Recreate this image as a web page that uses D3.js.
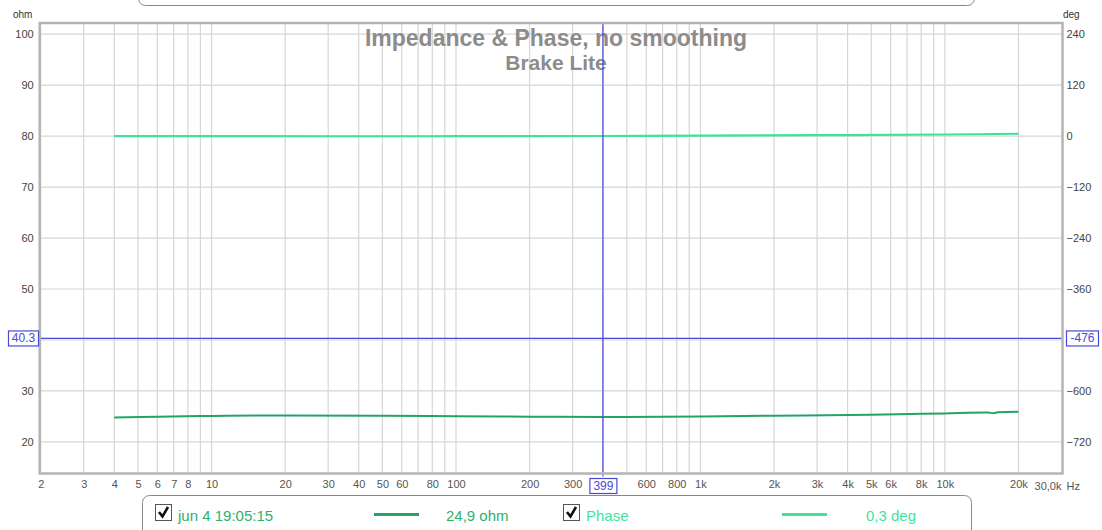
<!DOCTYPE html>
<html><head><meta charset="utf-8">
<script src="https://cdn.jsdelivr.net/npm/d3@7/dist/d3.min.js"></script>
<style>body{margin:0;background:#fff;}svg{display:block;font-family:"Liberation Sans",Arial,sans-serif;}</style>
</head><body><svg id="c" width="1102" height="530"></svg>
<script>
// ---- data ----
const impFreq = [4, 6, 10, 20, 50, 100, 200, 399, 1000, 2000, 5000, 10000, 15000, 15800, 16500, 20000];
const impOhm  = [24.8, 24.95, 25.1, 25.2, 25.15, 25.05, 24.95, 24.9, 25.0, 25.15, 25.35, 25.6, 25.75, 25.65, 25.8, 25.9];
const phFreq  = [4, 10, 30, 100, 399, 1000, 3000, 10000, 20000];
const phDeg   = [0, 0, -0.3, -0.2, 0.3, 1.2, 2.2, 3.8, 5.6];
const xTickVals   = [2,3,4,5,6,7,8,10,20,30,40,50,60,80,100,200,300,600,800,1000,2000,3000,4000,5000,6000,8000,10000,20000];
const xTickLabels = ["2","3","4","5","6","7","8","10","20","30","40","50","60","80","100","200","300","600","800","1k","2k","3k","4k","5k","6k","8k","10k","20k"];
const xGridVals = [2,3,4,5,6,7,8,9,10,20,30,40,50,60,70,80,90,100,200,300,400,500,600,700,800,900,1000,2000,3000,4000,5000,6000,7000,8000,9000,10000,20000];
const ohmGrid  = [20,30,40,50,60,70,80,90,100];
const ohmTicks = [20,30,50,60,70,80,90,100];          // 40 hidden by cursor box
const degTicks = [240,120,0,-120,-240,-360,-600,-720]; // -480 hidden by cursor box
const cursorFreq = 399, cursorOhm = 40.3, cursorDeg = -476;
const titleLines = ["Impedance & Phase, no smoothing", "Brake Lite"];
const legendItems = [
  {name:"jun 4 19:05:15", value:"24,9 ohm"},
  {name:"Phase", value:"0,3 deg"}
];

// ---- layout ----
const L = 40.7, R = 1061.5, T = 24, B = 472.5;
const svg = d3.select("#c");
const x = d3.scaleLog().domain([2, 30000]).range([L, R]);
const y = d3.scaleLinear().domain([14, 102]).range([B, T]);
const yD = d3.scaleLinear().domain([14*12-960, 102*12-960]).range([B, T]); // deg = (ohm-80)*12
const impColor = "#25a366", phColor = "#3de39a", cursorColor = "#4a4ad8";

// top clipped box
svg.append("rect").attr("x",138.5).attr("y",-12).attr("width",836).attr("height",17.5).attr("rx",7)
  .attr("fill","#fff").attr("stroke","#888");

// grid
const g = svg.append("g");
g.selectAll("line.vx").data(xGridVals).join("line")
  .attr("x1",d=>x(d)).attr("x2",d=>x(d)).attr("y1",T).attr("y2",B)
  .attr("stroke","#d6d6d6").attr("stroke-width",1.2);
g.selectAll("line.hy").data(ohmGrid).join("line")
  .attr("x1",L).attr("x2",R).attr("y1",d=>y(d)).attr("y2",d=>y(d))
  .attr("stroke","#d6d6d6").attr("stroke-width",1.2);

// title
svg.selectAll("text.title").data(titleLines).join("text")
  .attr("x",556).attr("y",(d,i)=>46+i*24).attr("text-anchor","middle")
  .attr("font-size",(d,i)=>i===0?23:21).attr("font-weight","bold").attr("fill","#8c8c8c").text(d=>d);

// lines
const lineImp = d3.line().x(d=>x(d[0])).y(d=>y(d[1])).curve(d3.curveMonotoneX);
const lineDeg = d3.line().x(d=>x(d[0])).y(d=>yD(d[1])).curve(d3.curveMonotoneX);
svg.append("path").datum(phFreq.map((f,i)=>[f,phDeg[i]])).attr("d",lineDeg)
  .attr("fill","none").attr("stroke",phColor).attr("stroke-width",2.2);
svg.append("path").datum(impFreq.map((f,i)=>[f,impOhm[i]])).attr("d",lineImp)
  .attr("fill","none").attr("stroke",impColor).attr("stroke-width",2);

// cursor lines
svg.append("line").attr("x1",x(cursorFreq)).attr("x2",x(cursorFreq)).attr("y1",T).attr("y2",B+4)
  .attr("stroke",cursorColor).attr("stroke-width",1.2);
svg.append("line").attr("x1",L).attr("x2",R).attr("y1",y(cursorOhm)).attr("y2",y(cursorOhm))
  .attr("stroke",cursorColor).attr("stroke-width",1.2);

// frame
svg.append("rect").attr("x",L-1).attr("y",T-1).attr("width",R-L+2).attr("height",B-T+2)
  .attr("fill","none").attr("stroke","#b4b4b4").attr("stroke-width",2.5);

// axes
const xAxis = d3.axisBottom(x).tickValues(xTickVals).tickFormat((d,i)=>xTickLabels[i]).tickSize(0).tickPadding(8);
const ax = svg.append("g").attr("transform",`translate(0,${B})`).call(xAxis);
ax.select(".domain").remove();
ax.selectAll("text").attr("font-size",11).attr("fill","#555").attr("font-family","Liberation Sans, Arial, sans-serif");
svg.append("text").attr("x",R).attr("y",B+17).attr("text-anchor","end").attr("font-size",11).attr("fill","#555").text("30,0k");
svg.append("text").attr("x",R+5).attr("y",B+17).attr("font-size",11).attr("fill","#555").text("Hz");

const yAxis = d3.axisLeft(y).tickValues(ohmTicks).tickSize(0).tickPadding(7);
const ay = svg.append("g").attr("transform",`translate(${L},0)`).call(yAxis);
ay.select(".domain").remove();
ay.selectAll("text").attr("font-size",11).attr("fill","#444").attr("font-family","Liberation Sans, Arial, sans-serif");
svg.append("text").attr("x",13).attr("y",18).attr("font-size",10).attr("fill","#333").text("ohm");

const yAxisR = d3.axisRight(yD).tickValues(degTicks).tickSize(0).tickPadding(5);
const ayr = svg.append("g").attr("transform",`translate(${R},0)`).call(yAxisR);
ayr.select(".domain").remove();
ayr.selectAll("text").attr("font-size",11).attr("fill","#444").attr("font-family","Liberation Sans, Arial, sans-serif");
svg.append("text").attr("x",1063).attr("y",18).attr("font-size",10).attr("fill","#333").text("deg");

// cursor labels
function box(cx, cy, w, h, txt){
  svg.append("rect").attr("x",cx).attr("y",cy).attr("width",w).attr("height",h)
    .attr("fill","#fff").attr("stroke",cursorColor).attr("stroke-width",1.2);
  svg.append("text").attr("x",cx+w/2).attr("y",cy+h-3.5).attr("text-anchor","middle")
    .attr("font-size",12).attr("fill",cursorColor).text(txt);
}
box(8.5, y(cursorOhm)-7.5, 30, 15, String(cursorOhm));
box(1066.5, y(cursorOhm)-7.5, 32, 15, String(cursorDeg));
box(x(cursorFreq)-13, B+6, 27, 15, String(cursorFreq));

// legend box
svg.append("rect").attr("x",142.5).attr("y",495.5).attr("width",829).attr("height",50).attr("rx",7)
  .attr("fill","#fff").attr("stroke","#888");
const lg = [{x0:155, lineX:374, valX:446, col:impColor, txtCol:"#2fb06e"},
            {x0:563, lineX:782, valX:866, col:phColor, txtCol:"#42e3a0"}];
legendItems.forEach((it,i)=>{
  const p = lg[i];
  svg.append("rect").attr("x",p.x0+0.5).attr("y",504.5).attr("width",16).attr("height",16)
    .attr("fill","#fff").attr("stroke","#555");
  svg.append("path").attr("d",`M${p.x0+4},${512} L${p.x0+7.5},${516.5} L${p.x0+13},${507}`)
    .attr("fill","none").attr("stroke","#111").attr("stroke-width",2.6);
  svg.append("text").attr("x",p.x0+23).attr("y",520.5).attr("font-size",15).attr("fill",p.txtCol).text(it.name);
  svg.append("line").attr("x1",p.lineX).attr("x2",p.lineX+45).attr("y1",514.5).attr("y2",514.5)
    .attr("stroke",p.col).attr("stroke-width",3);
  svg.append("text").attr("x",p.valX).attr("y",520.5).attr("font-size",15).attr("fill",p.txtCol).text(it.value);
});
</script></body></html>
